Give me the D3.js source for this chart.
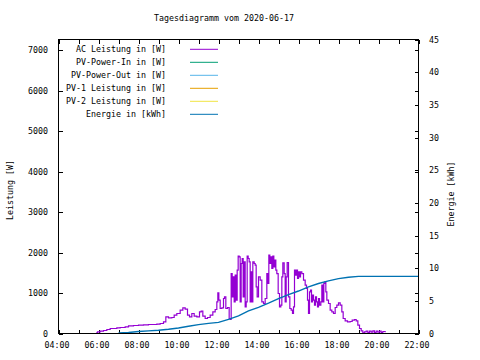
<!DOCTYPE html>
<html><head><meta charset="utf-8">
<script src="https://cdn.jsdelivr.net/npm/d3@7"></script>
<style>
html,body{margin:0;padding:0;background:#fff;}
svg{display:block;}
text{font-family:"DejaVu Sans Mono","Liberation Mono",monospace;font-size:8.3px;fill:#000;}
</style></head>
<body>
<svg id="chart" width="480" height="360"></svg>
<script>
// ---- data ----
const title = "Tagesdiagramm vom 2020-06-17";
const xTickLabels = ["04:00","06:00","08:00","10:00","12:00","14:00","16:00","18:00","20:00","22:00"];
const yTicks = [0,1000,2000,3000,4000,5000,6000,7000];
const y2Ticks = [0,5,10,15,20,25,30,35,40,45];
const legendLabels = ["AC Leistung in [W]","PV-Power-In in [W]","PV-Power-Out in [W]","PV-1 Leistung in [W]","PV-2 Leistung in [W]","Energie in [kWh]"];
const seriesColors = ["#9400d3","#009e73","#56b4e9","#e69f00","#f0e442","#0072b2"];

// AC power: time in minutes after midnight, watts
const acMinutes = [353,357,365,375,385,395,405,415,425,440,450,465,480,495,510,525,535,545,555,562,570,580,587,595,605,613,620,627,633,640,647,655,663,668,673,680,687,695,703,710,715,718,721,725,730,735,738,742,747,752,755,
758,761,764,767,770,773,776,779,782,785,788,791,794,797,800,803,806,809,812,815,817,820,823,827,830,833,836,840,845,850,855,860,865,868,871,874,877,880,883,886,889,892,895,899,903,907,910,913,917,920,923,926,930,934,938,942,945,948,951,954,957,960,963,966,970,975,980,984,987,990,993,996,999,1002,1005,1008,1011,1014,1017,1020,1023,1027,1030,1033,1036,1039,1042,1045,1050,1055,1060,1065,1070,1075,1080,1085,1090,1094,1100,1107,1115,1121,1128,1133,1138,1143,1148,1153,1158,1163,1168,1173,1178,1183,1188,1193,1198,1203,1208,1213,1220];
const acWatts = [16,41,58,74,99,123,123,140,148,165,189,198,206,214,222,222,230,247,288,411,387,395,453,494,576,634,600,453,411,494,428,411,535,551,428,370,395,453,535,593,782,1004,823,617,634,864,905,617,642,370,346,
1481,905,1399,782,1440,823,1564,1909,1893,782,1728,1852,905,1770,658,782,1909,1852,1770,782,1523,782,1770,1728,1687,1152,905,1399,1317,782,741,864,1481,1235,1934,1728,1893,1605,1909,1646,1811,1564,1481,988,658,700,1399,1745,1481,782,1399,1753,905,617,576,494,658,1564,1440,1564,1358,1523,1399,1523,1481,1317,1193,1111,823,494,1029,1070,782,946,823,700,905,782,658,864,700,782,1193,782,1235,1276,1029,823,741,576,535,494,642,700,757,700,535,370,313,288,296,329,346,313,206,123,66,16,41,58,25,58,33,66,25,58,33,58,25,49,33];

// Energy: time in minutes after midnight, kWh
const energyMinutes = [420,450,480,510,540,570,600,630,660,690,720,750,780,810,840,870,900,930,960,990,1020,1050,1080,1110,1140,1320];
const energyKWh = [0.1,0.15,0.3,0.4,0.5,0.65,0.85,1.1,1.35,1.55,1.7,2.15,2.7,3.45,4.0,4.65,5.35,5.95,6.5,7.15,7.65,8.05,8.4,8.62,8.75,8.75];

// Other series (no data on this day)
const pvInWatts = [], pvOutWatts = [], pv1Watts = [], pv2Watts = [];

// ---- drawing ----
const svg = d3.select("#chart");
const L = 58.5, R = 418.5, T = 39.5, B = 333.5;

const x = d3.scaleLinear().domain([240, 1320]).range([L, R]);
const y = d3.scaleLinear().domain([0, 7260]).range([B, T]);
const y2 = d3.scaleLinear().domain([0, 45]).range([B, T]);

const parseHM = s => { const [h,m] = s.split(":").map(Number); return h*60+m; };
const xTickVals = d3.range(240, 1321, 60);

// ticks via axes (inward)
const tl = 4;
svg.append("g").attr("transform",`translate(0,${B})`)
  .call(d3.axisTop(x).tickValues(xTickVals).tickSize(tl).tickFormat(""))
  .call(g=>g.select(".domain").remove());
svg.append("g").attr("transform",`translate(0,${T})`)
  .call(d3.axisBottom(x).tickValues(xTickVals).tickSize(tl).tickFormat(""))
  .call(g=>g.select(".domain").remove());
svg.append("g").attr("transform",`translate(${L},0)`)
  .call(d3.axisRight(y).tickValues(yTicks).tickSize(tl).tickFormat(""))
  .call(g=>g.select(".domain").remove());
svg.append("g").attr("transform",`translate(${R},0)`)
  .call(d3.axisLeft(y).tickValues(yTicks).tickSize(tl).tickFormat(""))
  .call(g=>g.select(".domain").remove());
svg.append("g").attr("transform",`translate(${R},0)`)
  .call(d3.axisLeft(y2).tickValues(y2Ticks).tickSize(tl).tickFormat(""))
  .call(g=>g.select(".domain").remove());
svg.selectAll(".tick line").attr("stroke","#000").attr("shape-rendering","crispEdges");

// tick labels
svg.append("g").selectAll("text").data(yTicks).join("text")
  .attr("x", 48).attr("y", d => y(d)+3).attr("text-anchor","end").text(d => d);
svg.append("g").selectAll("text").data(y2Ticks).join("text")
  .attr("x", 429).attr("y", d => y2(d)+3).attr("text-anchor","start").text(d => d);
svg.append("g").selectAll("text").data(xTickLabels).join("text")
  .attr("x", d => x(parseHM(d))-1.5).attr("y", 347.5).attr("text-anchor","middle").text(d => d);

// title & axis titles
svg.append("text").attr("x", 224).attr("y", 21).attr("text-anchor","middle").text(title);
svg.append("text").attr("transform","translate(12.5,190) rotate(-90)").attr("text-anchor","middle").text("Leistung [W]");
svg.append("text").attr("transform","translate(454,194) rotate(-90)").attr("text-anchor","middle").text("Energie [kWh]");

// series
const acData = acMinutes.map((t,i)=>[t, acWatts[i]]);
const enData = energyMinutes.map((t,i)=>[t, energyKWh[i]]);
svg.append("path").datum(acData)
  .attr("fill","none").attr("stroke",seriesColors[0]).attr("stroke-width",1.2)
  .attr("d", d3.line().x(d=>x(d[0])).y(d=>y(d[1])).curve(d3.curveStepAfter));
[pvInWatts,pvOutWatts,pv1Watts,pv2Watts].forEach((s,i)=>{
  if (s.length) svg.append("path").datum(s).attr("fill","none").attr("stroke",seriesColors[i+1])
    .attr("d", d3.line().x(d=>x(d[0])).y(d=>y(d[1])));
});
svg.append("path").datum(enData)
  .attr("fill","none").attr("stroke",seriesColors[5]).attr("stroke-width",1.4)
  .attr("d", d3.line().x(d=>x(d[0])).y(d=>y2(d[1])));

// border
svg.append("rect").attr("x",L).attr("y",T).attr("width",R-L).attr("height",B-T)
  .attr("fill","none").attr("stroke","#000").attr("shape-rendering","crispEdges");

// legend
const lg = svg.append("g").selectAll("g").data(legendLabels).join("g")
  .attr("transform",(d,i)=>`translate(0,${49.3 + i*13})`);
lg.append("text").attr("x",166).attr("y",2.5).attr("text-anchor","end").text(d=>d);
lg.append("line").attr("x1",190).attr("x2",218).attr("y1",0).attr("y2",0)
  .attr("stroke",(d,i)=>seriesColors[i]).attr("stroke-width",1);
</script>
</body></html>
